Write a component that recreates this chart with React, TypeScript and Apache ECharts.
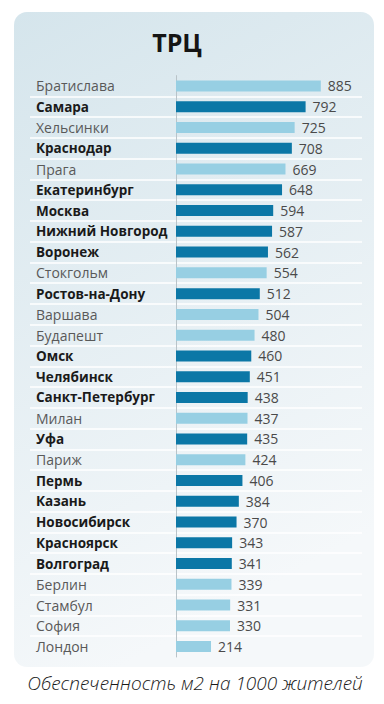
import React, { useEffect, useRef } from "react";
import * as echarts from "echarts";

const cities = [
  "Братислава", "Самара", "Хельсинки", "Краснодар", "Прага", "Екатеринбург",
  "Москва", "Нижний Новгород", "Воронеж", "Стокгольм", "Ростов-на-Дону",
  "Варшава", "Будапешт", "Омск", "Челябинск", "Санкт-Петербург", "Милан",
  "Уфа", "Париж", "Пермь", "Казань", "Новосибирск", "Красноярск", "Волгоград",
  "Берлин", "Стамбул", "София", "Лондон",
];
const values = [
  885, 792, 725, 708, 669, 648, 594, 587, 562, 554, 512, 504, 480, 460, 451,
  438, 437, 435, 424, 406, 384, 370, 343, 341, 339, 331, 330, 214,
];
const russian = [
  false, true, false, true, false, true, true, true, true, false, true, false,
  false, true, true, true, false, true, false, true, true, true, true, true,
  false, false, false, false,
];
const title = "ТРЦ";
const footer = "Обеспеченность м2 на 1000 жителей";

const DARK = "#0b77a6";
const LIGHT = "#97cfe3";

export default function App() {
  const ref = useRef<HTMLDivElement>(null);
  useEffect(() => {
    if (!ref.current) return;
    const chart = echarts.init(ref.current, undefined, { renderer: "svg" });
    const top = 75.6;
    const bottom = 47;
    chart.setOption({
      animation: false,
      backgroundColor: "#ffffff",
      graphic: [
        {
          type: "rect",
          z: -10,
          shape: { x: 14, y: 12, width: 360, height: 655, r: 13 },
          style: {
            fill: new echarts.graphic.LinearGradient(0, 0, 0.3, 1, [
              { offset: 0, color: "#d5e5ec" },
              { offset: 1, color: "#f5f8fa" },
            ]),
          },
        },
        {
          type: "text",
          x: 177,
          y: 42,
          style: {
            text: title,
            fontFamily: "Open Sans",
            fontWeight: "bold",
            fontSize: 25,
            fill: "#151515",
            align: "center",
            verticalAlign: "middle",
          },
        },
        {
          type: "text",
          x: 195,
          y: 683,
          style: {
            text: footer,
            fontFamily: "Open Sans",
            fontStyle: "italic",
            fontWeight: 300,
            fontSize: 19,
            fill: "#1a1a1a",
            align: "center",
            verticalAlign: "middle",
          },
        },
      ],
      grid: [
        { left: 176, right: 28, top, bottom, containLabel: false, outerBoundsMode: "none" },
        { left: 30, right: 22, top, bottom, containLabel: false, outerBoundsMode: "none" },
      ],
      xAxis: [
        { type: "value", gridIndex: 0, min: 0, max: 1100, show: false },
        { type: "value", gridIndex: 1, min: 0, max: 1, show: false },
      ],
      yAxis: [
        {
          type: "category",
          gridIndex: 0,
          inverse: true,
          data: cities.map((c, i) => ({
            value: c,
            textStyle: russian[i]
              ? { fontWeight: "bold", color: "#1a1a1a", align: "left", fontSize: 13.5 }
              : { fontWeight: "normal", color: "#595959", align: "left", fontSize: 14 },
          })),
          axisLine: { show: true, lineStyle: { color: "#b9c3c8", width: 1 } },
          axisTick: { show: false },
          splitLine: { show: false },
          axisLabel: {
            align: "left",
            margin: 140,
            fontFamily: "Open Sans",
            fontSize: 14,
          },
          z: 3,
        },
        {
          type: "category",
          gridIndex: 1,
          inverse: true,
          data: cities,
          axisLine: { show: false },
          axisTick: { show: false },
          axisLabel: { show: false },
          splitLine: {
            show: true,
            showMinLine: false,
            showMaxLine: false,
            lineStyle: { color: "#ffffff", width: 1.5 },
          },
        },
      ],
      series: [
        {
          type: "bar",
          xAxisIndex: 0,
          yAxisIndex: 0,
          barWidth: 11,
          z: 4,
          data: values.map((v, i) => ({
            value: v,
            itemStyle: { color: russian[i] ? DARK : LIGHT },
          })),
          label: {
            show: true,
            position: "right",
            distance: 7,
            fontFamily: "Open Sans",
            fontSize: 14,
            color: "#4a4a4a",
          },
        },
      ],
    });
    return () => chart.dispose();
  }, []);
  return (
    <div
      ref={ref}
      style={{ position: "fixed", left: 0, top: 0, width: 384, height: 704 }}
    />
  );
}
